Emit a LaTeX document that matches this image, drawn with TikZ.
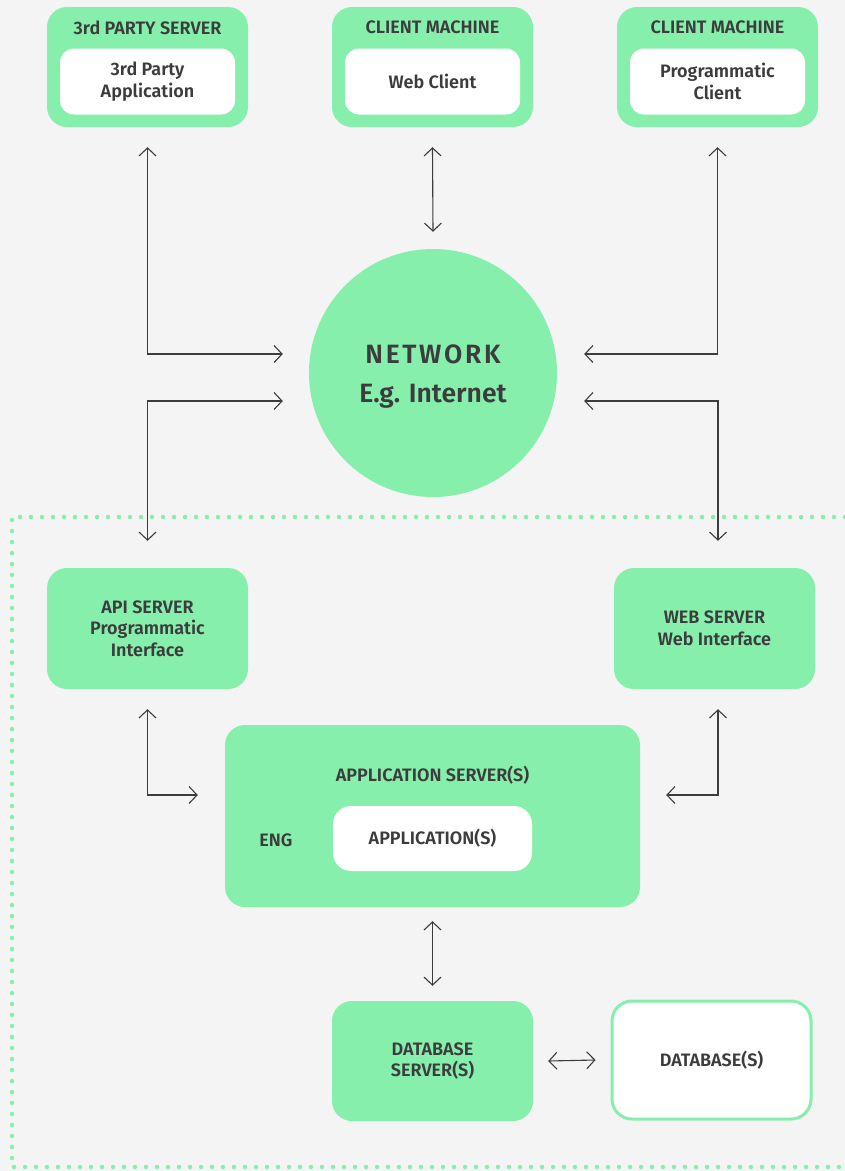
\documentclass[tikz,border=0pt]{standalone}
\usepackage{fontspec}
\setmainfont{Fira Sans}[BoldFont={Fira Sans SemiBold}]
\usetikzlibrary{arrows.meta}
\definecolor{mint}{HTML}{86EFAC}
\definecolor{paper}{HTML}{F4F4F4}
\definecolor{ink}{HTML}{3C3C3C}
\tikzset{
	box/.style={fill=mint, rounded corners=20pt, minimum width=201pt, minimum height=120pt, inner sep=0pt, align=center},
	inbox/.style={fill=white, rounded corners=14pt, minimum width=175pt, minimum height=66pt, inner sep=0pt, align=center},
	lbl/.style={text=ink, font=\fontsize{18}{21.5}\selectfont\bfseries, align=center},
	conn/.style={draw=ink, line width=1.1pt, {Straight Barb[length=8pt,width=17pt]}-{Straight Barb[length=8pt,width=17pt]}},
	dotline/.style={draw=mint, line width=4.5pt, line cap=round, dash pattern=on 0pt off 11pt},
}

\begin{document}
\begin{tikzpicture}[x=1pt, y=-1pt]
			%%%%% START %%%%%
			
			\fill[paper] (0, 0) rectangle (845, 1171);
			\useasboundingbox (0, 0) rectangle (845, 1171);
			
			% outside: clients and network
			\node[box] (tps) at (147.5, 67) {};
			\node[lbl] (tpst) at (147.5, 27.5) {3rd PARTY SERVER};
			\node[inbox, lbl] (tpa) at (147.5, 81.5) {3rd Party\\Application};
			
			\node[box] (wc) at (432.5, 67) {};
			\node[lbl] (wct) at (432.5, 27.5) {CLIENT MACHINE};
			\node[inbox, lbl] (wca) at (432.5, 81.5) {Web Client};
			
			\node[box] (pc) at (717.5, 67) {};
			\node[lbl] (pct) at (717.5, 27.5) {CLIENT MACHINE};
			\node[inbox, lbl] (pca) at (717.5, 81.5) {Programmatic\\Client};
			
			\node[circle, fill=mint, minimum size=248pt, inner sep=0pt] (net) at (433, 373) {};
			\node[text=ink, align=center, font=\fontsize{26.5}{39}\selectfont\bfseries] (nett) at (433, 377)
				{{\addfontfeatures{LetterSpace=10}NETWORK}\\E.g. Internet};
			
			% inside: the servers
			\draw[dotline] (845, 517) -- (12, 517) -- (12, 1167) -- (845, 1167);
			
			\node[box, lbl, minimum height=121pt] (api) at (147.5, 628.5) {API SERVER\\Programmatic\\Interface};
			\node[box, lbl, minimum height=121pt] (web) at (714.5, 628.5) {WEB SERVER\\Web Interface};
			
			\node[box, minimum width=415pt, minimum height=182pt] (app) at (432.5, 816) {};
			\node[lbl] (appt) at (432.5, 775.5) {APPLICATION SERVER(S)};
			\node[lbl] (eng) at (276, 840.5) {ENG};
			\node[inbox, lbl, minimum width=199pt, minimum height=65pt, rounded corners=18pt] (apps) at (432.5, 838.5) {APPLICATION(S)};
			
			\node[box, lbl] (dbs) at (432.5, 1061) {DATABASE\\SERVER(S)};
			\node[box, lbl, fill=white, draw=mint, line width=3pt, minimum width=199pt, minimum height=118pt] (db) at (711.5, 1060) {DATABASE(S)};
			
			% connectors
			\draw[conn] ([yshift=-20pt]tps.south) |- ([xshift=-26pt, yshift=19pt]net.west);
			\draw[conn] ([yshift=-20pt]wc.south) -- ([yshift=17pt]net.north);
			\draw[conn] ([yshift=-20pt]pc.south) |- ([xshift=27pt, yshift=19pt]net.east);
			\draw[conn] ([xshift=-26pt, yshift=-28pt]net.west) -| ([yshift=27pt]api.north);
			\draw[conn] ([xshift=27pt, yshift=-28pt]net.east) -| ([xshift=3.5pt, yshift=27pt]web.north);
			\draw[conn] ([yshift=-20pt]api.south) |- ([xshift=-27pt, yshift=21pt]app.west);
			\draw[conn] ([xshift=3.5pt, yshift=-20pt]web.south) |- ([xshift=26pt, yshift=21pt]app.east);
			\draw[conn] ([yshift=-14pt]app.south) -- ([yshift=15pt]dbs.north);
			\draw[conn] ([xshift=15pt]dbs.east) -- ([xshift=-15pt]db.west);
			
			%%%%% END %%%%%
\end{tikzpicture}
\end{document}
